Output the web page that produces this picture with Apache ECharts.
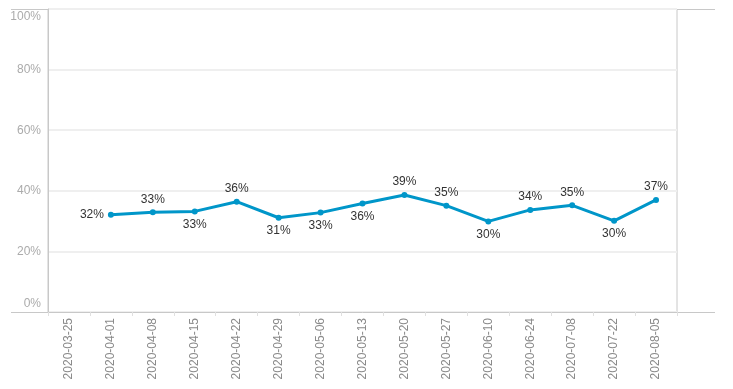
<!DOCTYPE html>
<html><head><meta charset="utf-8">
<script src="https://cdn.jsdelivr.net/npm/echarts@6/dist/echarts.min.js"></script>
<style>html,body{margin:0;padding:0;background:#fff}#c{width:733px;height:389px}</style>
</head><body><div id="c"></div>
<script>
var categories = ['2020-03-25','2020-04-01','2020-04-08','2020-04-15','2020-04-22','2020-04-29','2020-05-06','2020-05-13','2020-05-20','2020-05-27','2020-06-10','2020-06-24','2020-07-08','2020-07-22','2020-08-05'];
var values = [null, 32.1, 32.9, 33.2, 36.4, 31.1, 32.8, 35.8, 38.6, 35.1, 29.9, 33.7, 35.2, 30.1, 37.0];
var labelSide = ['top','left','top','bottom','top','bottom','bottom','bottom','top','top','bottom','top','top','bottom','top'];
var yTicks = [0,20,40,60,80,100];

var chart = echarts.init(document.getElementById('c'));
var font = 'Liberation Sans, Arial, sans-serif';
chart.setOption({
  animation: false,
  grid: {left: 48, right: 56, top: 9, bottom: 77, show: true, borderColor: '#c8c8c8', borderWidth: 1},
  xAxis: {
    type: 'category', data: categories, boundaryGap: true,
    axisLine: {lineStyle: {color: '#c8c8c8'}},
    axisTick: {show: true, interval: 0, length: 4, lineStyle: {color: '#e0e0e0'}},
    axisLabel: {rotate: 90, interval: 0, color: '#8a8a8a', fontSize: 12, margin: 6, fontFamily: font}
  },
  yAxis: {
    type: 'value', min: yTicks[0], max: yTicks[yTicks.length-1], interval: 20,
    axisLine: {show: true, lineStyle: {color: '#c8c8c8'}},
    axisTick: {show: false},
    splitLine: {show: true, lineStyle: {color: '#efefef', width: 2}},
    axisLabel: {
      color: '#ababab', fontSize: 12, margin: 7, fontFamily: font,
      formatter: function(v){ if (v===0) return '{b|0%}'; if (v===100) return '{t|100%}'; return v+'%'; },
      rich: {b: {color:'#ababab', fontSize: 12, fontFamily: font, padding:[0,0,16,0]},
             t: {color:'#ababab', fontSize: 12, fontFamily: font, padding:[16,0,0,0]}}
    }
  },
  graphic: [
    {type:'line', shape:{x1:11,y1:9.5,x2:715,y2:9.5}, style:{stroke:'#c8c8c8',lineWidth:1}, silent:true},
    {type:'line', shape:{x1:11,y1:312.5,x2:715,y2:312.5}, style:{stroke:'#c8c8c8',lineWidth:1}, silent:true}
  ],
  series: [{
    type: 'line',
    data: values.map(function(v,i){ return {value: v, label: {position: labelSide[i]}}; }),
    symbol: 'circle', symbolSize: 6,
    lineStyle: {color: '#0096c9', width: 3},
    itemStyle: {color: '#0096c9'},
    label: {show: true, distance: 4, color: '#333', fontSize: 12, fontFamily: font,
      formatter: function(p){ return Math.round(p.value) + '%'; }}
  }]
});
</script></body></html>
